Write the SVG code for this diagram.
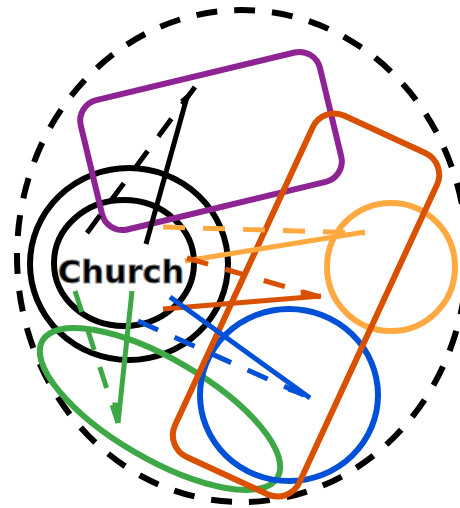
<svg xmlns="http://www.w3.org/2000/svg" width="460" height="508" viewBox="0 0 460 508">
<style>
.set{fill:none;stroke-width:6}
.lnk{fill:none;stroke-width:5}
.dash{stroke-dasharray:22 18}
.lbl{font-family:"DejaVu Sans","Liberation Sans",sans-serif;font-weight:bold;font-size:32px;fill:#000;stroke:#888;stroke-width:1.2;text-anchor:middle}
</style>
<rect width="460" height="508" fill="#fff"/>
<g id="universe">
<ellipse cx="242" cy="256" rx="225" ry="246" fill="none" stroke="#000" stroke-width="6" stroke-dasharray="21 17"/>
</g>
<g id="church">
<ellipse cx="129" cy="264" rx="99" ry="96" class="set" stroke="#000" stroke-width="5"/>
<ellipse cx="124" cy="263" rx="70" ry="63" class="set" stroke="#000" stroke-width="5"/>
</g>
<g id="purple">
<rect x="88" y="74.5" width="246" height="133" rx="21" transform="rotate(-13.5 211 141)" class="set" stroke="#8E2493"/>
</g>
<g id="green">
<ellipse cx="160" cy="409" rx="136" ry="50" transform="rotate(30.2 160 409)" class="set" stroke="#3EA846"/>
</g>
<g id="blue">
<ellipse cx="289" cy="395" rx="89" ry="86" class="set" stroke="#0050D8"/>
</g>
<g id="lightorange">
<circle cx="391" cy="267" r="64" class="set" stroke="#FFA940"/>
</g>
<g id="orangered">
<rect x="237.5" y="117" width="137" height="376" rx="24" transform="rotate(24.8 306 305)" class="set" stroke="#D95000"/>
</g>
<g id="connectors">
<g stroke="#000">
<line x1="87" y1="233" x2="195" y2="87" class="lnk dash"/>
<line x1="146" y1="244" x2="187" y2="97" class="lnk"/>
<polygon points="195,87 180,100 186,104" fill="#000" stroke="none"/>
</g>
<g stroke="#FFA940">
<line x1="163" y1="227" x2="365" y2="233" class="lnk dash"/>
<line x1="185" y1="261" x2="365" y2="232" class="lnk"/>
</g>
<g stroke="#D95000">
<line x1="187" y1="258" x2="320" y2="297" class="lnk dash"/>
<line x1="163" y1="309" x2="321" y2="296" class="lnk"/>
<polygon points="322,296 300.4,289.6 301.1,297.6" fill="#D95000" stroke="none"/>
</g>
<g stroke="#0050D8">
<line x1="138" y1="321" x2="308" y2="397" class="lnk dash"/>
<line x1="170" y1="297" x2="310" y2="398" class="lnk"/>
<polygon points="310,398 287.5,391.6 292.2,385.1" fill="#0050D8" stroke="none"/>
</g>
<g stroke="#3EA846">
<line x1="75" y1="291" x2="118" y2="423" class="lnk dash"/>
<line x1="132" y1="291" x2="118" y2="423" class="lnk"/>
<polygon points="118,423 112.1,402.2 120.1,403.1" fill="#3EA846" stroke="none"/>
</g>
</g>
<g id="label">
<text x="121" y="283" class="lbl">Church</text>
</g>
</svg>
